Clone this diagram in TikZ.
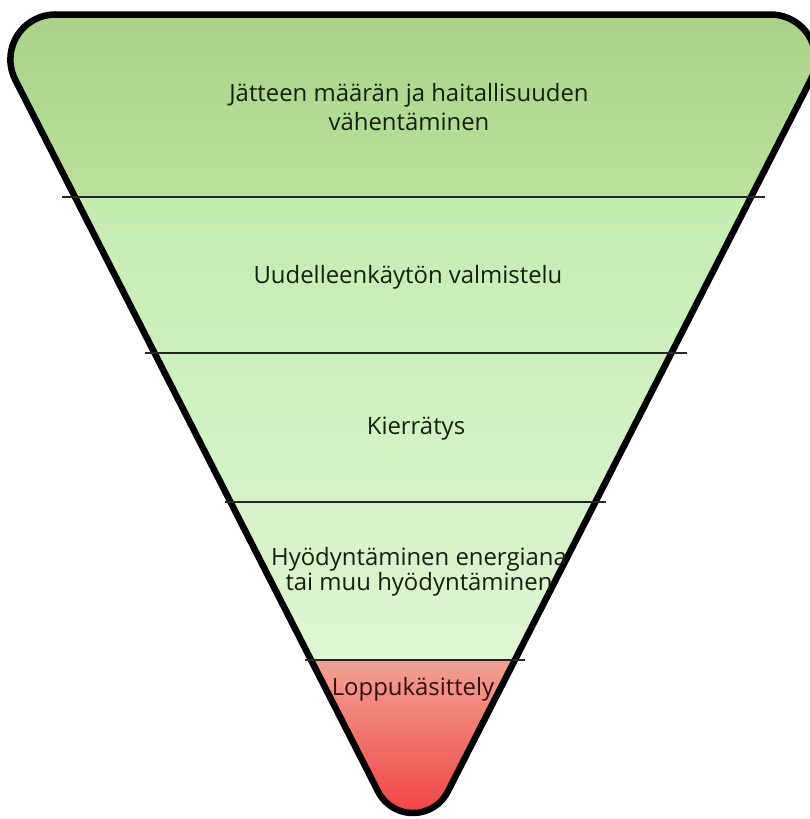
\documentclass[tikz,border=0pt]{standalone}
\usepackage{fontspec}
\setmainfont{Open Sans}
\usetikzlibrary{positioning}
\definecolor{greenTop}{RGB}{170,208,135}
\definecolor{greenMid}{RGB}{186,226,155}
\definecolor{greenLight}{RGB}{197,237,175}
\definecolor{greenPale}{RGB}{224,245,212}
\definecolor{redTop}{RGB}{241,162,146}
\definecolor{redBottom}{RGB}{240,66,66}
\definecolor{textDark}{RGB}{22,32,14}
\definecolor{textRed}{RGB}{48,18,16}

\begin{document}
\begin{tikzpicture}[x=0.02cm, y=-0.02cm,
    levelText/.style={font=\fontsize{13.6}{17}\selectfont, text=textDark, align=center, inner sep=0pt},
    divider/.style={line width=0.8pt, black!85},
    outline/.style={line width=0.13cm, line join=round}]
  \useasboundingbox (0,0) rectangle (809,819);
  % funnel outline
  \def\funnel{(55.4,14.5) -- (770.6,14.5)
    arc[start angle=-90, end angle=27, radius=45] -- (447.7,791.7)
    arc[start angle=27, end angle=153, radius=39] -- (15.3,79.9)
    arc[start angle=153, end angle=270, radius=45] -- cycle}
  \begin{scope}
    \clip \funnel;
    \shade[top color=greenTop, bottom color=greenMid] (-20,0) rectangle (850,197);
    \shade[top color=greenLight, bottom color=greenPale] (-20,197) rectangle (850,660);
    \shade[top color=redTop, bottom color=redBottom] (-20,660) rectangle (850,819);
  \end{scope}
  \draw[outline] \funnel;
  % dividers
  \coordinate (d1l) at (62,197);  \coordinate (d1r) at (765,197);
  \coordinate (d2l) at (145,353); \coordinate (d2r) at (687,353);
  \coordinate (d3l) at (225,502); \coordinate (d3r) at (606,502);
  \coordinate (d4l) at (305,660); \coordinate (d4r) at (525,660);
  \draw[divider] (d1l) -- (d1r);
  \draw[divider] (d2l) -- (d2r);
  \draw[divider] (d3l) -- (d3r);
  \draw[divider] (d4l) -- (d4r);
  % levels
  \node[levelText, font=\fontsize{13.6}{16}\selectfont] (reduce) at (409,107) {Jätteen määrän ja haitallisuuden\\vähentäminen};
  \node[levelText] (reuse) at (408,277) {Uudelleenkäytön valmistelu};
  \node[levelText] (recycle) at (416,429) {Kierrätys};
  \node[levelText, font=\fontsize{13.6}{14}\selectfont] (recover) at (419,572) {Hyödyntäminen energiana\\tai muu hyödyntäminen};
  \node[levelText, text=textRed] (disposal) at (413,689) {Loppukäsittely};
\end{tikzpicture}
\end{document}
